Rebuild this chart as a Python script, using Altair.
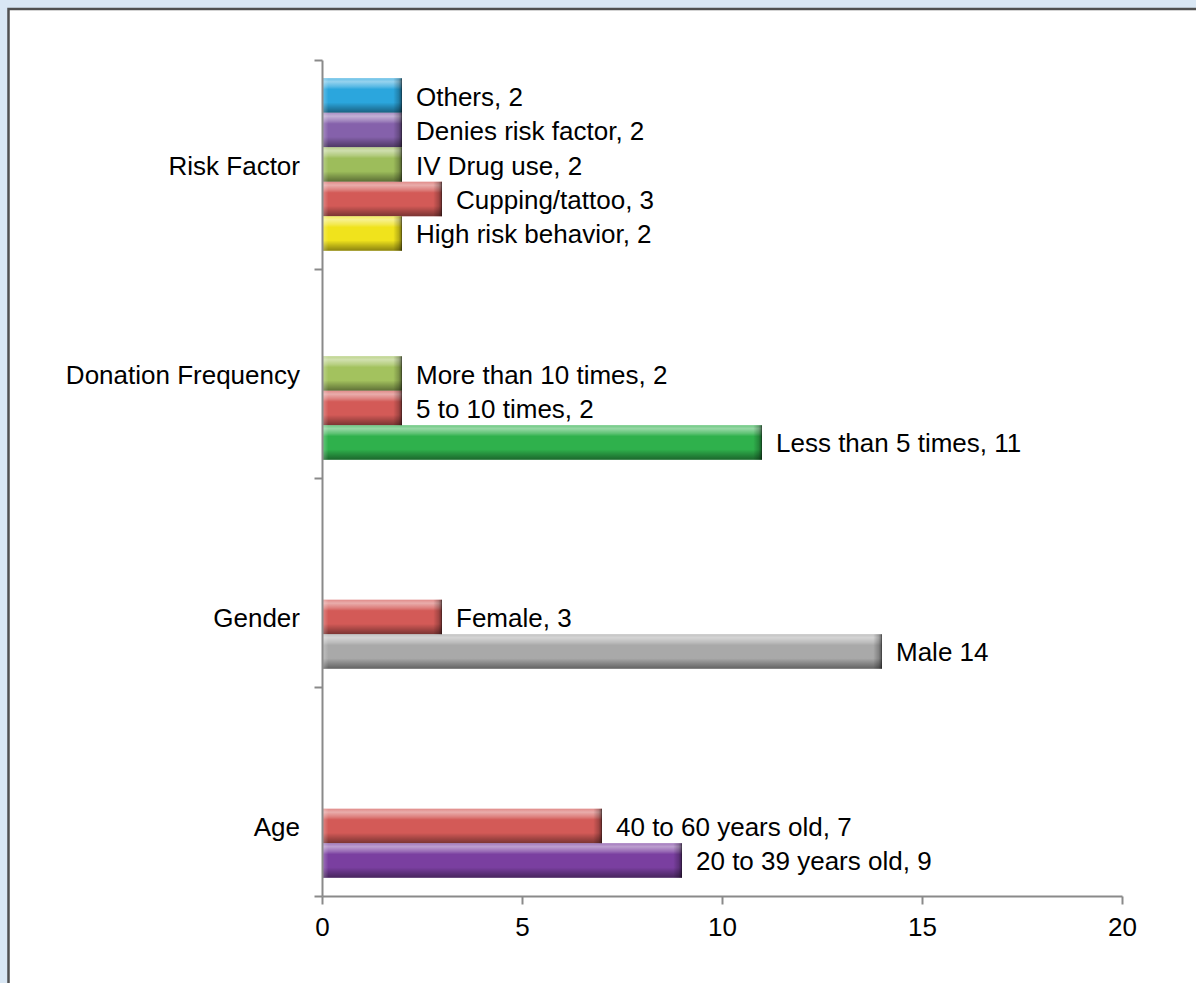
import altair as alt
import pandas as pd

# Category groups, top to bottom
groups = ["Risk Factor", "Donation Frequency", "Gender", "Age"]
# which bar row each group caption sits beside
group_label_slot = [3, 3, 2, 2]

# One entry per bar; slot 1 is the lowest row of a group, slot 5 the highest
bar_group = (["Risk Factor"] * 5 + ["Donation Frequency"] * 3
             + ["Gender"] * 2 + ["Age"] * 2)
bar_slot = [5, 4, 3, 2, 1, 3, 2, 1, 2, 1, 2, 1]
bar_name = [
    "Others", "Denies risk factor", "IV Drug use", "Cupping/tattoo", "High risk behavior",
    "More than 10 times", "5 to 10 times", "Less than 5 times",
    "Female", "Male",
    "40 to 60 years old", "20 to 39 years old",
]
bar_value = [2, 2, 2, 3, 2, 2, 2, 11, 3, 14, 7, 9]
bar_sep = [", "] * 9 + [" "] + [", ", ", "]
bar_color = [
    "#2ba6dd", "#8561ab", "#9dbd5b", "#d35a57", "#f0e31c",
    "#a3c25e", "#d35a57", "#2fb14c",
    "#d35a57", "#a9a9a9",
    "#d35a57", "#7a3fa0",
]

df = pd.DataFrame({
    "group": bar_group,
    "slot": bar_slot,
    "name": bar_name,
    "value": bar_value,
    "color": bar_color,
})
df["label"] = [f"{n}{s}{v}" for n, s, v in zip(bar_name, bar_sep, bar_value)]

labels_df = pd.DataFrame({"group": groups, "slot": group_label_slot})

FONT = "Liberation Sans"
AXIS_GREY = "#8a8a8a"

x_axis = alt.Axis(
    values=[0, 5, 10, 15, 20], title=None, grid=False, zindex=1,
    labelFont=FONT, labelFontSize=26, labelColor="black",
    labelFlush=False, labelOverlap=False,
    labelPadding=10, tickSize=8, tickWidth=2, tickColor=AXIS_GREY,
    domainColor=AXIS_GREY, domainWidth=2,
)
x_scale = alt.Scale(domain=[0, 20], nice=False)

y_enc = alt.Y(
    "group:N", sort=groups,
    scale=alt.Scale(paddingInner=0, paddingOuter=0),
    axis=alt.Axis(
        labels=False, title=None, tickBand="extent", zindex=1,
        tickSize=8, tickWidth=2, tickColor=AXIS_GREY,
        domainColor=AXIS_GREY, domainWidth=2, grid=False,
    ),
)
yoff_enc = alt.YOffset(
    "slot:O",
    scale=alt.Scale(domain=[5, 4, 3, 2, 1], paddingInner=0, paddingOuter=0.53),
)

# White chart panel with a dark frame
panel = alt.Chart(pd.DataFrame({"p": [0]})).mark_rect(
    fill="white", stroke="#505050", strokeWidth=2.5
).encode(
    x=alt.value(-313.5), x2=alt.value(900),
    y=alt.value(-51), y2=alt.value(960),
)

base = alt.Chart(df)

bars = base.mark_bar().encode(
    x=alt.X("value:Q", scale=x_scale, axis=x_axis),
    x2=alt.datum(0),
    y=y_enc,
    yOffset=yoff_enc,
    color=alt.Color("color:N", scale=None),
)

# Bevel shading: light top edge, dark bottom edge
sheen = base.mark_bar(
    fill={
        "gradient": "linear", "x1": 0, "y1": 0, "x2": 0, "y2": 1,
        "stops": [
            {"offset": 0.0, "color": "rgba(255,255,255,0.3)"},
            {"offset": 0.1, "color": "rgba(255,255,255,0.5)"},
            {"offset": 0.24, "color": "rgba(255,255,255,0.22)"},
            {"offset": 0.32, "color": "rgba(255,255,255,0)"},
            {"offset": 0.7, "color": "rgba(0,0,0,0)"},
            {"offset": 0.84, "color": "rgba(0,0,0,0.2)"},
            {"offset": 1.0, "color": "rgba(0,0,0,0.42)"},
        ],
    }
).encode(
    x=alt.X("value:Q", scale=x_scale, axis=x_axis),
    x2=alt.datum(0),
    y=y_enc,
    yOffset=yoff_enc,
)

# Dark bevel at the bar end
cap_right = base.transform_calculate(cap_start="datum.value - 0.22").mark_bar(
    fill={
        "gradient": "linear", "x1": 0, "y1": 0, "x2": 1, "y2": 0,
        "stops": [
            {"offset": 0.0, "color": "rgba(0,0,0,0)"},
            {"offset": 0.6, "color": "rgba(0,0,0,0.22)"},
            {"offset": 0.85, "color": "rgba(0,0,0,0.4)"},
            {"offset": 1.0, "color": "rgba(0,0,0,0.7)"},
        ],
    }
).encode(
    x=alt.X("cap_start:Q", scale=x_scale, axis=x_axis),
    x2="value:Q",
    y=y_enc,
    yOffset=yoff_enc,
)

# Light bevel at the bar start
cap_left = base.transform_calculate(cap_end="0.16").mark_bar(
    fill={
        "gradient": "linear", "x1": 0, "y1": 0, "x2": 1, "y2": 0,
        "stops": [
            {"offset": 0.0, "color": "rgba(255,255,255,0.3)"},
            {"offset": 1.0, "color": "rgba(255,255,255,0)"},
        ],
    }
).encode(
    x=alt.X("cap_end:Q", scale=x_scale, axis=x_axis),
    x2=alt.datum(0),
    y=y_enc,
    yOffset=yoff_enc,
)

bar_labels = base.mark_text(
    align="left", baseline="middle", dx=14, dy=2,
    font=FONT, fontSize=26, color="black",
).encode(
    x=alt.X("value:Q", scale=x_scale, axis=x_axis),
    y=y_enc,
    yOffset=yoff_enc,
    text="label:N",
)

group_labels = alt.Chart(labels_df).mark_text(
    align="right", baseline="middle", dy=2,
    font=FONT, fontSize=26, color="black",
).encode(
    x=alt.value(-22),
    y=y_enc,
    yOffset=yoff_enc,
    text="group:N",
)

chart = alt.layer(
    panel, bars, sheen, cap_right, cap_left, bar_labels, group_labels
).properties(
    width=800,
    height=836,
    padding={"left": 322, "top": 60, "right": 74, "bottom": 87},
    autosize=alt.AutoSizeParams(type="none"),
    background="#d9e7f4",
).configure_view(stroke=None)

chart.save("out.html", embed_options={"renderer": "svg", "actions": False})
